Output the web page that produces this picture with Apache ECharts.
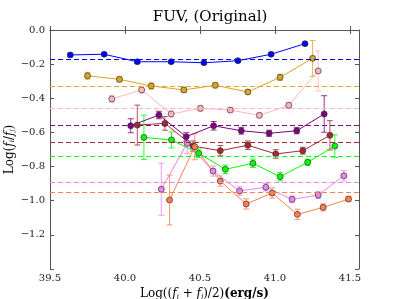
<!DOCTYPE html>
<html><head><meta charset="utf-8">
<script src="https://cdn.jsdelivr.net/npm/echarts@6/dist/echarts.min.js"></script>
<style>html,body{margin:0;padding:0;background:#fff}#c{width:399px;height:299px}</style>
</head><body><div id="c"></div>
<script>
var titleText = 'FUV, (Original)';
var yTicks = [0, -0.2, -0.4, -0.6, -0.8, -1.0, -1.2];
var xTicks = [39.5, 40.0, 40.5, 41.0, 41.5];

var xBlue = [39.635, 39.861, 40.082, 40.308, 40.526, 40.753, 40.974, 41.200];
var yBlue = [-0.146, -0.142, -0.186, -0.186, -0.192, -0.180, -0.142, -0.080];
var eBlue = [0.010, 0.008, 0.010, 0.008, 0.008, 0.008, 0.008, 0.008];
var mBlue = -0.172;

var xGold = [39.750, 39.963, 40.175, 40.392, 40.602, 40.819, 41.034, 41.251];
var yGold = [-0.268, -0.289, -0.328, -0.351, -0.324, -0.363, -0.277, -0.166];
var eGold = [0.020, 0.015, 0.018, 0.015, 0.015, 0.012, 0.018, 0.105];
var mGold = -0.326;

var xPink = [39.912, 40.111, 40.308, 40.503, 40.702, 40.896, 41.092, 41.288];
var yPink = [-0.404, -0.351, -0.492, -0.459, -0.469, -0.500, -0.441, -0.240];
var ePink = [0.020, 0.020, 0.018, 0.018, 0.015, 0.015, 0.018, 0.117];
var mPink = -0.455;

var xPurple = [40.038, 40.226, 40.408, 40.591, 40.775, 40.961, 41.145, 41.328];
var yPurple = [-0.561, -0.498, -0.625, -0.561, -0.590, -0.605, -0.590, -0.492];
var ePurple = [0.041, 0.022, 0.025, 0.025, 0.020, 0.018, 0.018, 0.107];
var mPurple = -0.562;

var xBrown = [40.082, 40.266, 40.454, 40.635, 40.819, 41.005, 41.185, 41.366];
var yBrown = [-0.557, -0.547, -0.680, -0.707, -0.675, -0.726, -0.707, -0.617];
var eBrown = [0.117, 0.040, 0.030, 0.030, 0.025, 0.025, 0.020, 0.086];
var mBrown = -0.660;

var xGreen = [40.126, 40.310, 40.491, 40.669, 40.853, 41.034, 41.218, 41.399];
var yGreen = [-0.629, -0.644, -0.722, -0.816, -0.781, -0.859, -0.775, -0.680];
var eGreen = [0.130, 0.047, 0.025, 0.025, 0.025, 0.025, 0.018, 0.066];
var mGreen = -0.742;

var xViolet = [40.242, 40.414, 40.587, 40.764, 40.939, 41.114, 41.288, 41.459];
var yViolet = [-0.933, -0.664, -0.826, -0.943, -0.921, -0.992, -0.967, -0.854];
var eViolet = [0.152, 0.060, 0.030, 0.025, 0.022, 0.020, 0.020, 0.030];
var mViolet = -0.885;

var xCoral = [40.297, 40.465, 40.635, 40.808, 40.981, 41.149, 41.321, 41.490];
var yCoral = [-0.996, -0.684, -0.885, -1.019, -0.955, -1.080, -1.039, -0.990];
var eCoral = [0.146, 0.076, 0.030, 0.030, 0.030, 0.030, 0.020, 0.015];
var mCoral = -0.951;

var groups = [
  {x: xBlue, y: yBlue, e: eBlue, m: mBlue, c: '#0000ff'},
  {x: xGold, y: yGold, e: eGold, m: mGold, c: '#daa520'},
  {x: xPink, y: yPink, e: ePink, m: mPink, c: '#ffb6c1'},
  {x: xPurple, y: yPurple, e: ePurple, m: mPurple, c: '#800080'},
  {x: xBrown, y: yBrown, e: eBrown, m: mBrown, c: '#a52a2a'},
  {x: xGreen, y: yGreen, e: eGreen, m: mGreen, c: '#00ff00'},
  {x: xViolet, y: yViolet, e: eViolet, m: mViolet, c: '#ee82ee'},
  {x: xCoral, y: yCoral, e: eCoral, m: mCoral, c: '#ff7f50'}
];

var FONT = 'DejaVu Serif';
var series = [];
groups.forEach(function (g) {
  var pts = g.x.map(function (v, i) { return [v, g.y[i]]; });
  var errs = g.x.map(function (v, i) { return [v, g.y[i] - g.e[i], g.y[i] + g.e[i]]; });
  series.push({
    type: 'custom', data: errs, z: 2, silent: true,
    renderItem: function (params, api) {
      var x = api.value(0);
      var lo = api.coord([x, api.value(1)]);
      var hi = api.coord([x, api.value(2)]);
      var w = 3;
      var st = {stroke: g.c, lineWidth: 1, opacity: 0.8};
      return {type: 'group', children: [
        {type: 'line', shape: {x1: lo[0], y1: lo[1], x2: hi[0], y2: hi[1]}, style: st},
        {type: 'line', shape: {x1: lo[0] - w, y1: lo[1], x2: lo[0] + w, y2: lo[1]}, style: st},
        {type: 'line', shape: {x1: hi[0] - w, y1: hi[1], x2: hi[0] + w, y2: hi[1]}, style: st}
      ]};
    }
  });
  series.push({
    type: 'line', data: pts, z: 3, symbol: 'circle', symbolSize: 6,
    lineStyle: {color: g.c, width: 1},
    itemStyle: {color: g.c, borderColor: '#333', borderWidth: 0.7},
    emphasis: {disabled: true},
    markLine: {
      silent: true, symbol: 'none', label: {show: false},
      lineStyle: {color: g.c, type: [5, 3], width: 1.2},
      data: [{yAxis: g.m}]
    }
  });
});

var minusFmt = function (v) {
  var s = Number(v).toFixed(1);
  return s.replace('-', '\u2212');
};

var richName = {
  n: {fontFamily: FONT, fontSize: 12, color: '#000'},
  b: {fontFamily: FONT, fontSize: 12, fontWeight: 'bold', color: '#000'},
  i: {fontFamily: FONT, fontSize: 12, fontStyle: 'italic', color: '#000'},
  s: {fontFamily: FONT, fontSize: 7, fontStyle: 'italic', color: '#000', verticalAlign: 'bottom', padding: [6, 0, 0, 0]}
};

var chart = echarts.init(document.getElementById('c'), null, {renderer: 'canvas'});
chart.setOption({
  animation: false,
  backgroundColor: '#fff',
  title: {text: titleText, left: 205, top: 5, textAlign: 'center',
    textStyle: {fontFamily: FONT, fontSize: 15, fontWeight: 'normal', color: '#000'}},
  grid: {left: 50, right: 40, top: 30, bottom: 30, outerBoundsMode: 'none', containLabel: false},
  xAxis: [{
    type: 'value', min: 39.5, max: 41.56, interval: 0.5,
    axisLine: {lineStyle: {color: '#555', width: 1}},
    axisTick: {inside: true, length: 4, lineStyle: {color: '#555'}},
    splitLine: {show: false},
    axisLabel: {fontFamily: FONT, fontSize: 10, color: '#222', margin: 4,
      showMaxLabel: false, formatter: function (v) { return xTicks.indexOf(v) >= 0 ? Number(v).toFixed(1) : ''; }},
    name: '{n|Log((}{i|f}{s|i}{n| + }{i|f}{s|j}{n|)/2)}{b|(erg/s)}', nameLocation: 'middle', nameGap: 14,
    nameTextStyle: {rich: richName}
  }, {
    type: 'value', position: 'top', min: 39.5, max: 41.56, interval: 0.5,
    axisLine: {show: true, lineStyle: {color: '#555'}},
    axisTick: {inside: true, length: 4, lineStyle: {color: '#555'}},
    axisLabel: {show: false}, splitLine: {show: false}
  }],
  yAxis: [{
    type: 'value', min: -1.4, max: 0, interval: 0.2,
    axisLine: {show: true, lineStyle: {color: '#555', width: 1}},
    axisTick: {inside: true, length: 4, lineStyle: {color: '#555'}},
    splitLine: {show: false},
    axisLabel: {fontFamily: FONT, fontSize: 10, color: '#222', margin: 5,
      formatter: function (v) {
        var r = Math.round(v * 10) / 10;
        for (var i = 0; i < yTicks.length; i++) { if (Math.abs(yTicks[i] - r) < 1e-6) return minusFmt(yTicks[i]); }
        return '';
      }},
    name: '{n|Log(}{i|f}{s|i}{n|/}{i|f}{s|j}{n|)}', nameLocation: 'middle', nameGap: 34, nameRotate: 90,
    nameMoveOverlap: false,
    nameTextStyle: {rich: richName}
  }, {
    type: 'value', position: 'right', min: -1.4, max: 0, interval: 0.2,
    axisLine: {show: true, lineStyle: {color: '#555'}},
    axisTick: {inside: true, length: 4, lineStyle: {color: '#555'}},
    axisLabel: {show: false}, splitLine: {show: false}
  }],
  series: series
});
</script></body></html>
